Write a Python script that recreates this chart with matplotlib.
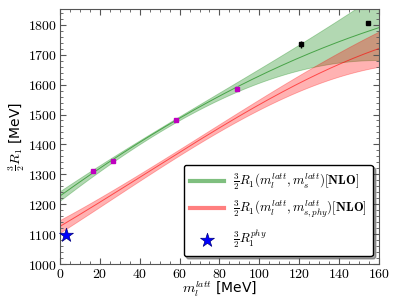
import matplotlib
matplotlib.use("Agg")
import matplotlib.pyplot as plt
from matplotlib.ticker import MultipleLocator, FuncFormatter
import numpy as np

plt.rcParams['mathtext.fontset'] = 'cm'
plt.rcParams['font.family'] = ['DejaVu Sans']

# band curves (MeV)
x_curve = [0, 20, 40, 60, 80, 100, 120, 140, 160]
green_mid = [1228, 1318, 1408, 1490, 1560, 1628, 1690, 1745, 1790]
green_lo = [1212, 1310, 1400, 1482, 1550, 1608, 1648, 1672, 1683]
green_hi = [1245, 1326, 1416, 1498, 1572, 1650, 1735, 1820, 1905]
red_mid = [1125, 1208, 1290, 1372, 1455, 1535, 1605, 1667, 1721]
red_lo = [1102, 1196, 1278, 1360, 1442, 1520, 1580, 1625, 1660]
red_hi = [1148, 1220, 1302, 1384, 1468, 1552, 1632, 1705, 1779]

# lattice points
m_fit = [16.7, 26.4, 58.0, 88.6]
r_fit = [1311, 1343, 1483, 1586]
r_fit_err = [4, 4, 5, 8]
m_out = [120.9, 154.6]
r_out = [1735, 1806]
r_out_err = [11, 6]
m_phy = [3.0]
r_phy = [1097]

fig = plt.figure(figsize=(3.99, 2.99), dpi=100)
ax = fig.add_axes([0.150, 0.117, 0.800, 0.853])

xs = np.linspace(0, 160, 200)
def smooth(y):
    # smooth curve through the read points
    c = np.polyfit(x_curve, y, 3)
    return np.polyval(c, xs)

ax.fill_between(xs, smooth(green_lo), smooth(green_hi), color='green', alpha=0.3, lw=0.6,
                edgecolor=(0, 0.5, 0, 0.3))
ax.plot(xs, smooth(green_mid), color='green', lw=0.7, alpha=0.6)
ax.fill_between(xs, smooth(red_lo), smooth(red_hi), color='red', alpha=0.3, lw=0.6,
                edgecolor=(1, 0, 0, 0.3))
ax.plot(xs, smooth(red_mid), color='red', lw=0.7, alpha=0.6)

ax.errorbar(m_fit, r_fit, yerr=r_fit_err, fmt='s', color='m', ms=3.5, elinewidth=1, ecolor='violet', capsize=0)
ax.errorbar(m_out, r_out, yerr=r_out_err, fmt='s', color='k', ms=3.5, elinewidth=1, capsize=0)

l1, = ax.plot([], [], color='green', lw=3, alpha=0.5)
l2, = ax.plot([], [], color='red', lw=3, alpha=0.5)
st = ax.scatter(m_phy, r_phy, marker='*', s=110, color='blue', edgecolor='navy', lw=0.5, zorder=5, clip_on=False)

leg = ax.legend([l1, l2, st],
                [r'$\frac{3}{2}R_1(m_l^{latt},m_s^{latt})[\mathbf{NLO}]$',
                 r'$\frac{3}{2}R_1(m_l^{latt},m_{s,phy}^{latt})[\mathbf{NLO}]$',
                 r'$\frac{3}{2}R_1^{phy}$'],
                loc='lower right', fontsize=9.3, fancybox=True, shadow=True,
                handlelength=2.6, handletextpad=0.7, labelspacing=0.55, borderpad=0.5,
                framealpha=1, borderaxespad=0, bbox_to_anchor=(0.981, 0.031))
leg.get_frame().set_edgecolor('black')

ax.set_xlim(0, 160)
ax.set_ylim(1000, 1853)
ax.xaxis.set_major_locator(MultipleLocator(20))
ax.xaxis.set_minor_locator(MultipleLocator(5))
ax.yaxis.set_major_locator(MultipleLocator(100))
ax.yaxis.set_minor_locator(MultipleLocator(20))
fmt = FuncFormatter(lambda v, p: r'$%d$' % v)
ax.xaxis.set_major_formatter(fmt)
ax.yaxis.set_major_formatter(fmt)
ax.tick_params(which='both', direction='in', top=True, right=True, labelsize=10, pad=2, color='#555555')
ax.tick_params(which='major', length=4)
ax.tick_params(which='minor', length=2)
for s in ax.spines.values():
    s.set_color('#555555')

ax.set_xlabel(r'$m_l^{latt}$ [MeV]', fontsize=10, labelpad=-1)
ax.set_ylabel(r'$\frac{3}{2}R_1$ [MeV]', fontsize=10, labelpad=1)

fig.savefig('out.png', dpi=100)
